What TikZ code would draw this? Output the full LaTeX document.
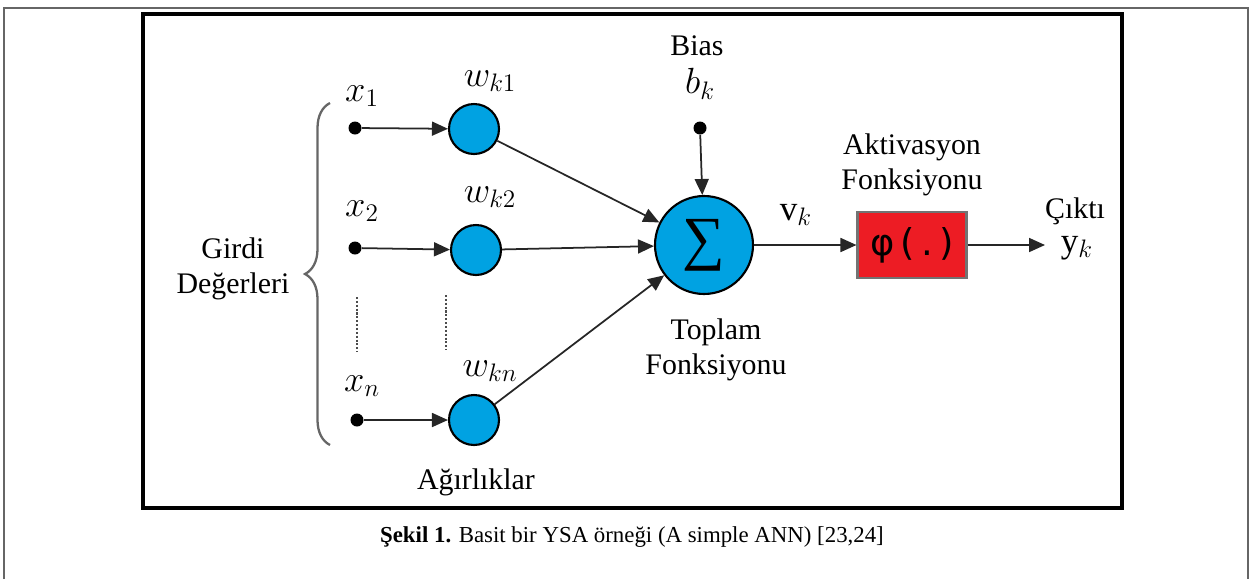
\documentclass[tikz,border=0pt]{standalone}
\usepackage{fontspec}
\setmainfont{Liberation Serif}
\setsansfont{DejaVu Sans}
\usetikzlibrary{arrows.meta,positioning,decorations.pathreplacing}
\definecolor{neuronblue}{RGB}{0,162,226}
\definecolor{actred}{RGB}{237,28,36}

\begin{document}
\begin{tikzpicture}[x=0.02cm,y=-0.02cm, every node/.style={font=\fontsize{17}{20}\selectfont,align=center},
 wnode/.style={circle,draw,line width=1.2pt,fill=neuronblue,minimum size=1cm,inner sep=0pt},
 sumnode/.style={circle,draw,line width=1.2pt,fill=neuronblue,minimum size=1.96cm,inner sep=0pt},
 dot/.style={circle,fill,inner sep=0pt,minimum size=0.26cm},
 mlabel/.style={font=\fontsize{20}{22}\selectfont},
 actbox/.style={draw=black!55,line width=1.2pt,fill=actred,minimum width=2.18cm,minimum height=1.32cm},
 arr/.style={-{Triangle[length=3.2mm,width=2.8mm]},line width=1pt,draw=black!85}]
\useasboundingbox (0,0) rectangle (1252,579);
\draw[black!60,line width=0.8pt] (4,579) -- (4,8) -- (1248,8) -- (1248,579);
\draw[line width=1.8pt] (143,14) rectangle (1122,508);
% inputs and weights
\node[dot] (x1) at (355,128) {};
\node[dot] (x2) at (355,248) {};
\node[dot] (xn) at (357,420) {};
\node[wnode] (w1) at (474,129) {};
\node[wnode] (w2) at (476,250) {};
\node[wnode] (wn) at (474,420) {};
\node[mlabel] (lx1) at (362,96) {$x_1$};
\node[mlabel] (lx2) at (362,211) {$x_2$};
\node[mlabel] (lxn) at (362,386) {$x_n$};
\node[mlabel] (lw1) at (490,81) {$w_{k1}$};
\node[mlabel] (lw2) at (490,197) {$w_{k2}$};
\node[mlabel] (lwn) at (490,371) {$w_{kn}$};
\draw[black!70,densely dotted,line width=1.2pt] (357,297) -- (357,352) (446,295) -- (446,350);
\draw[black!60,line width=1.3pt,decorate,decoration={brace,amplitude=0.5cm}] (330,445) -- (330,103);
\node (girdi) at (233,269) {Girdi\\Değerleri};
\node (agr) at (476,482) {Ağırlıklar};
% summation and activation
\node[sumnode] (sum) at (704,245) {\fontsize{34}{34}\selectfont ∑};
\node[dot] (b) at (700,128) {};
\node (bias) at (697,46) {Bias};
\node[mlabel] (bk) at (700,84) {$b_k$};
\node (toplam) at (716,350) {Toplam\\Fonksiyonu};
\node[mlabel] (vk) at (796,215) {$\mathrm{v}_k$};
\node[actbox] (act) at (912,245) {\sffamily\fontsize{21}{22}\selectfont φ\,(\,.\,)};
\node (aktiv) at (912,165) {Aktivasyon\\Fonksiyonu};
\coordinate (out) at (1045,245);
\node[inner sep=0pt,anchor=base] (cikti) at (1075,218) {Çıktı};
\node[mlabel,inner sep=0pt,anchor=base] (yk) at (1077,252) {$\mathrm{y}_k$};
\draw[arr] (x1) -- (w1);\draw[arr] (x2) -- (w2);\draw[arr] (xn) -- (wn);
\draw[arr] (w1) -- (sum);\draw[arr] (w2) -- (sum);\draw[arr] (wn) -- (sum);
\draw[arr] (b) -- (sum);\draw[arr] (sum) -- (act);\draw[arr] (act) -- (out);
\node (caption) at (632,537) {\fontsize{13}{15}\selectfont\textbf{Şekil 1.} Basit bir YSA örneği (A simple ANN) [23,24]};
\end{tikzpicture}
\end{document}
